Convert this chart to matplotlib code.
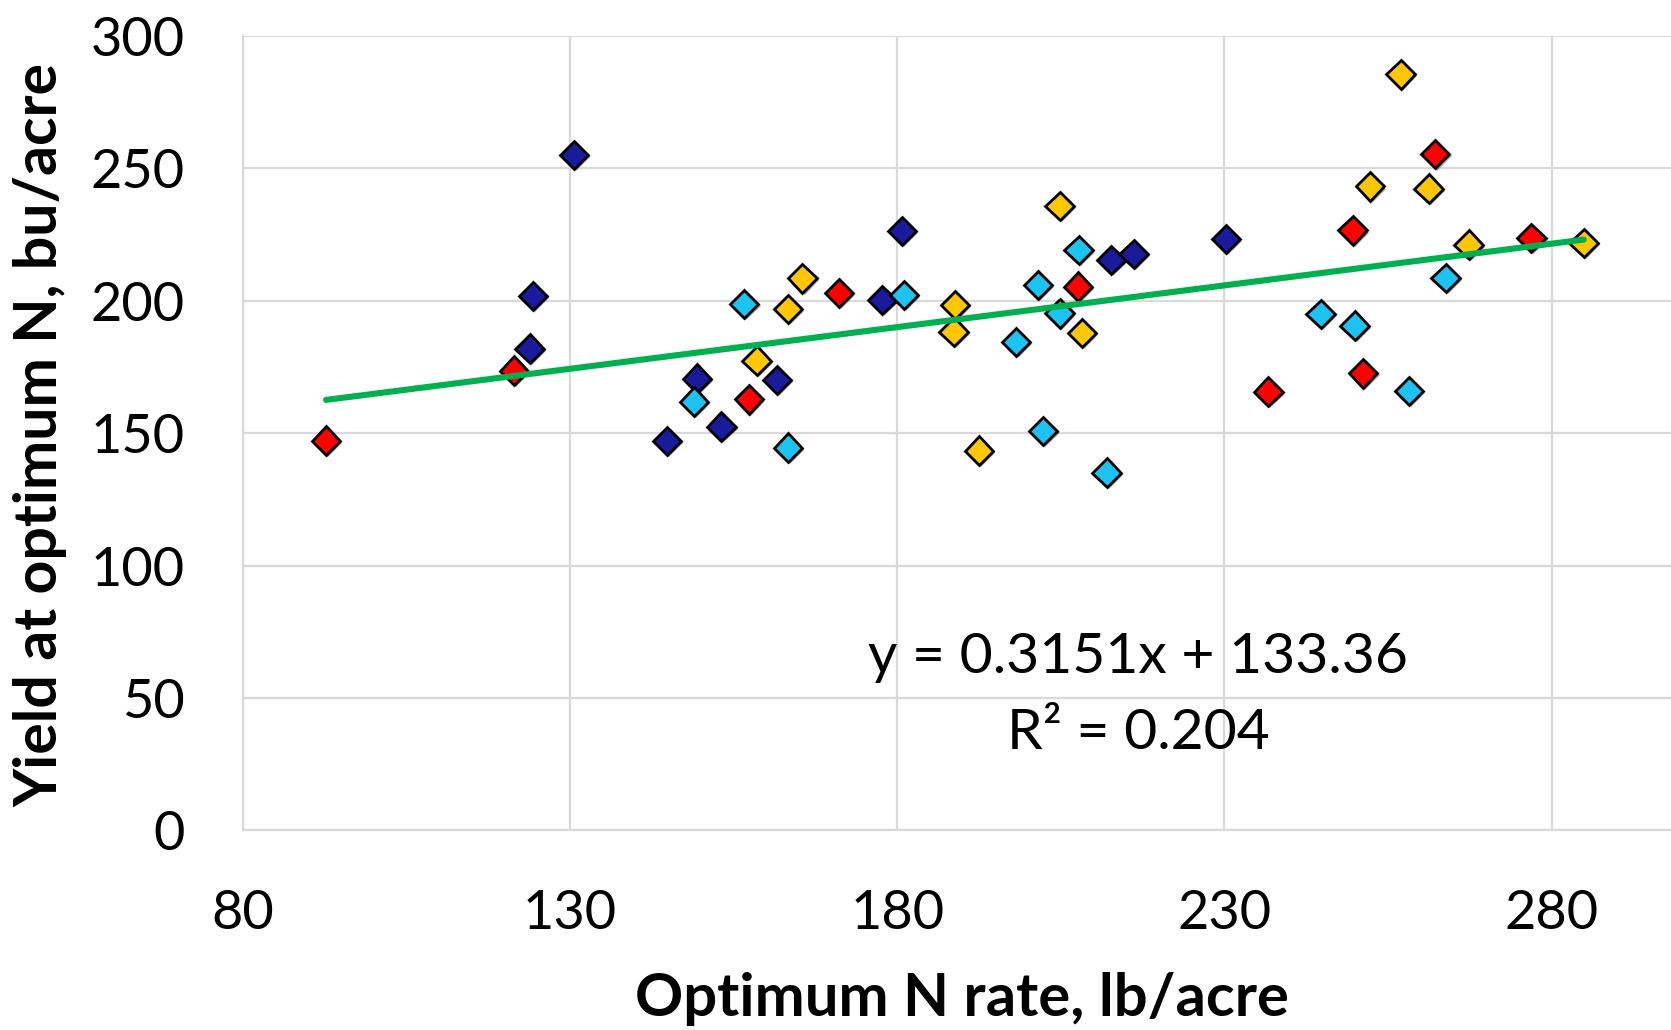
import numpy as np
import matplotlib
matplotlib.use("Agg")
import matplotlib.pyplot as plt
import matplotlib.patheffects as pe

# optimum N rate (lb/acre) and yield at optimum N (bu/acre), one pair of lists per site group
red_x = [92.7, 121.4, 157.3, 171.1, 207.6, 236.7, 249.6, 251.2, 262.2, 276.9]
red_y = [147.2, 173.6, 162.8, 202.9, 205.4, 165.7, 226.6, 172.6, 255.4, 223.7]

navy_x = [123.8, 124.3, 130.6, 144.8, 149.4, 153.1, 161.6, 177.7, 180.7, 212.7, 216.1, 230.2]
navy_y = [181.9, 201.9, 255.1, 147.1, 170.6, 152.5, 170.1, 200.3, 226.4, 215.5, 217.7, 223.4]

cyan_x = [148.9, 156.6, 163.3, 181.0, 198.1, 201.5, 202.3, 204.8, 207.7, 212.0,
          244.7, 249.9, 258.2, 263.8]
cyan_y = [161.9, 198.8, 144.5, 202.2, 184.4, 206.0, 150.8, 195.3, 219.2, 135.1,
          195.1, 190.6, 166.0, 208.7]

gold_x = [158.5, 163.3, 165.5, 188.6, 188.8, 192.5, 204.8, 208.2, 252.2, 256.9,
          261.2, 267.3, 284.9]
gold_y = [177.4, 196.9, 208.5, 188.4, 198.5, 143.4, 235.9, 187.8, 243.2, 285.6,
          242.4, 221.2, 221.8]

# linear trendline
slope = 0.3151
intercept = 133.36
r2 = 0.204

x_ticks = [80, 130, 180, 230, 280]
y_ticks = [0, 50, 100, 150, 200, 250, 300]

plt.rcParams['font.family'] = ['Lato', 'DejaVu Sans']

fig = plt.figure(figsize=(16.71, 10.30), dpi=100)
ax = fig.add_axes([0.1454, 0.194, 0.8615, 0.7709])

shadow = [pe.SimplePatchShadow(offset=(1.5, -1.5), alpha=0.35, shadow_rgbFace='black'), pe.Normal()]
groups = [(navy_x, navy_y, '#1a1a9c'), (cyan_x, cyan_y, '#1cc3f0'),
          (red_x, red_y, '#ff0000'), (gold_x, gold_y, '#ffc700')]
for gx, gy, col in groups:
    ax.plot(gx, gy, linestyle='none', marker='D', markersize=14.5, markerfacecolor=col,
            markeredgecolor='black', markeredgewidth=2, zorder=3, path_effects=shadow)

all_x = red_x + navy_x + cyan_x + gold_x
xs = np.array([min(all_x), max(all_x)])
ax.plot(xs, slope * xs + intercept, color='#00b050', linewidth=4.4,
        solid_capstyle='round', zorder=4)

ax.text(216.8, 65.2, "y = %.4fx + %.2f" % (slope, intercept), fontsize=41,
        ha='center', va='center')
ax.text(216.8, 36.6, "R² = %.3f" % r2, fontsize=41, ha='center', va='center')

ax.set_xlim(80, 300)
ax.set_ylim(0, 300)
ax.set_xticks(x_ticks)
ax.set_yticks(y_ticks)
ax.tick_params(length=0, labelsize=39, pad=42)
ax.grid(True, color='#d9d9d9', linewidth=1.6)
ax.set_axisbelow(True)
for s in ['top', 'right']:
    ax.spines[s].set_visible(False)
for s in ['left', 'bottom']:
    ax.spines[s].set_color('#d9d9d9')
    ax.spines[s].set_linewidth(1.6)

fig.text(0.5755, 0.0305, "Optimum N rate, lb/acre", fontsize=43, fontweight='bold',
         ha='center', va='center')
fig.text(0.0243, 0.578, "Yield at optimum N, bu/acre", fontsize=42.5, fontweight='bold',
         ha='center', va='center', rotation=90)

fig.savefig("out.png", dpi=100)
